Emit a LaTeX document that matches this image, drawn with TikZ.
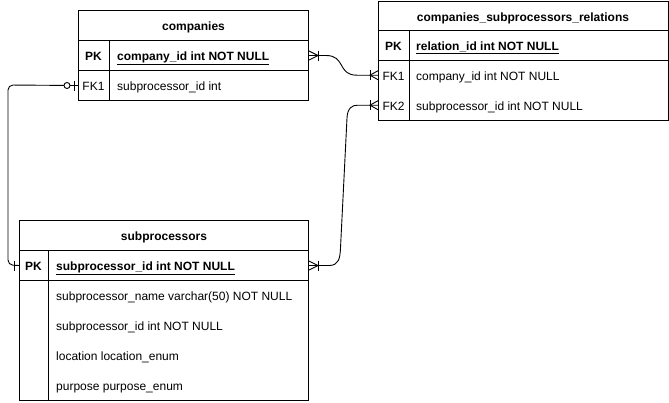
\documentclass[tikz,border=0pt]{standalone}
\usepackage{fontspec}
\setmainfont{Liberation Sans}
\begin{document}
\begin{tikzpicture}[x=1pt,y=-1pt,
  every node/.style={font=\fontsize{12}{14}\selectfont, text=black},
  cell/.style={draw=black, line width=1pt, inner sep=0pt, anchor=north west, minimum height=30pt},
  anch/.style={inner sep=0pt, anchor=north west, minimum height=30pt},
  title/.style={inner sep=0pt, anchor=base, yshift=-5pt, font=\fontsize{12}{14}\selectfont\bfseries},
  keylab/.style={inner sep=0pt, anchor=base, yshift=-5pt},
  fieldlab/.style={inner sep=0pt, anchor=base west, yshift=-5pt},
  conn/.style={draw=black, line width=0.9pt},
  ermark/.style={draw=black, line width=0.9pt}]
\useasboundingbox (0,0) rectangle (669,402);

% ---------- companies ----------
\node[cell, minimum width=230pt] (ch) at (78,10) {};
\node[cell, minimum width=230pt] (cpk) at (78,40) {};
\node[cell, minimum width=230pt] (cfk1) at (78,70) {};
\draw[line width=1pt] (109,40) -- (109,100);
\node[title] (cht) at (ch.center) {companies};
\node[keylab, font=\fontsize{12}{14}\selectfont\bfseries] (cpkk) at (93.5,55) {PK};
\node[fieldlab, font=\fontsize{12}{14}\selectfont\bfseries] (cpkf) at (117,55) {\underline{company\_id int NOT NULL}};
\node[keylab] (cfk1k) at (93.5,85) {FK1};
\node[fieldlab] (cfk1f) at (117,85) {subprocessor\_id int};

% ---------- companies_subprocessors_relations ----------
\node[cell, minimum width=290pt, minimum height=29pt] (rh) at (378,1) {};
\node[cell, minimum width=290pt] (rpk) at (378,30) {};
\node[cell, minimum width=290pt, minimum height=60pt] (rfk) at (378,60) {};
\node[anch, minimum width=290pt] (rfk1) at (378,60) {};
\node[anch, minimum width=290pt] (rfk2) at (378,90) {};
\draw[line width=1pt] (409,30) -- (409,120);
\node[title] (rht) at (523,16) {companies\_subprocessors\_relations};
\node[keylab, font=\fontsize{12}{14}\selectfont\bfseries] (rpkk) at (393.5,45) {PK};
\node[fieldlab, font=\fontsize{12}{14}\selectfont\bfseries] (rpkf) at (416,45) {\underline{relation\_id int NOT NULL}};
\node[keylab] (rfk1k) at (393.5,75) {FK1};
\node[fieldlab] (rfk1f) at (416,75) {company\_id int NOT NULL};
\node[keylab] (rfk2k) at (393.5,105) {FK2};
\node[fieldlab] (rfk2f) at (416,105) {subprocessor\_id int NOT NULL};

% ---------- subprocessors ----------
\node[cell, minimum width=289pt] (sh) at (19,220) {};
\node[cell, minimum width=289pt] (spk) at (19,250) {};
\node[cell, minimum width=289pt, minimum height=120pt] (srest) at (19,280) {};
\draw[line width=1pt] (48,250) -- (48,400);
\node[title] (sht) at (sh.center) {subprocessors};
\node[keylab, font=\fontsize{12}{14}\selectfont\bfseries] (spkk) at (33.5,265) {PK};
\node[fieldlab, font=\fontsize{12}{14}\selectfont\bfseries] (spkf) at (56,265) {\underline{subprocessor\_id int NOT NULL}};
\node[fieldlab] (sf1) at (56,295) {subprocessor\_name varchar(50) NOT NULL};
\node[fieldlab] (sf2) at (56,325) {subprocessor\_id int NOT NULL};
\node[fieldlab] (sf3) at (56,355) {location location\_enum};
\node[fieldlab] (sf4) at (56,385) {purpose purpose\_enum};

% ---------- connectors ----------
% companies.company_id -> relations.FK1
\draw[conn] (cpk.east) -- ([xshift=17pt]cpk.east)
  .. controls ([xshift=37pt]cpk.east) and ([xshift=-41pt]rfk1.west) .. ([xshift=-21pt]rfk1.west)
  -- (rfk1.west);
\draw[ermark] ([yshift=4.5pt]cpk.east) -- ([xshift=9pt]cpk.east) -- ([yshift=-4.5pt]cpk.east);
\draw[ermark] ([xshift=9pt,yshift=5pt]cpk.east) -- ([xshift=9pt,yshift=-5pt]cpk.east);
\draw[ermark] ([yshift=4.5pt]rfk1.west) -- ([xshift=-8pt]rfk1.west) -- ([yshift=-4.5pt]rfk1.west);
\draw[ermark] ([xshift=-8pt,yshift=5pt]rfk1.west) -- ([xshift=-8pt,yshift=-5pt]rfk1.west);

% companies.FK1 -> subprocessors.PK
\draw[conn, rounded corners=5pt] (cfk1.west) -- (8,85) -- (8,265) -- (spk.west);
\draw[ermark] ([xshift=-4pt,yshift=5pt]cfk1.west) -- ([xshift=-4pt,yshift=-5pt]cfk1.west);
\draw[ermark, fill=white] ([xshift=-11pt]cfk1.west) circle (3pt);
\draw[ermark] ([xshift=-5pt,yshift=5pt]spk.west) -- ([xshift=-5pt,yshift=-5pt]spk.west);

% subprocessors.PK -> relations.FK2
\draw[conn] (spk.east) -- ([xshift=20pt]spk.east)
  .. controls ([xshift=30pt]spk.east) and (340,258) .. (340.5,248)
  -- (347,118)
  .. controls (347.5,108) and (352,105) .. ([xshift=-20pt]rfk2.west)
  -- (rfk2.west);
\draw[ermark] ([yshift=4.5pt]spk.east) -- ([xshift=9pt]spk.east) -- ([yshift=-4.5pt]spk.east);
\draw[ermark] ([xshift=9pt,yshift=5pt]spk.east) -- ([xshift=9pt,yshift=-5pt]spk.east);
\draw[ermark] ([yshift=4.5pt]rfk2.west) -- ([xshift=-8pt]rfk2.west) -- ([yshift=-4.5pt]rfk2.west);
\draw[ermark] ([xshift=-8pt,yshift=5pt]rfk2.west) -- ([xshift=-8pt,yshift=-5pt]rfk2.west);
\end{tikzpicture}
\end{document}
